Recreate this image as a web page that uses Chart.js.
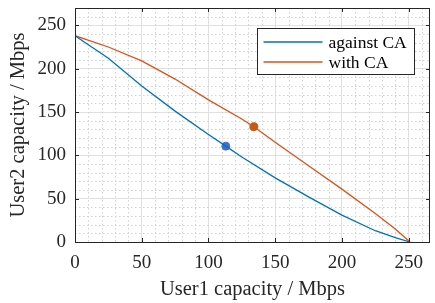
<!DOCTYPE html>
<html>
<head>
<meta charset="utf-8">
<script src="https://cdn.jsdelivr.net/npm/chart.js@4/dist/chart.umd.min.js"></script>
<style>
  html, body { margin: 0; padding: 0; background: #fff; }
  #wrap { width: 435px; height: 303px; }
</style>
</head>
<body>
<div id="wrap"><canvas id="c"></canvas></div>
<script>
// values
const seriesLabels = ['against CA', 'with CA']
const user1Against = [0, 25, 50, 75, 100, 113, 125, 150, 175, 200, 225, 240, 251]
const user2Against = [238, 212, 180, 151, 124, 110.6, 98, 74, 52, 31, 13, 5, 0]
const user1With = [0, 25, 50, 75, 100, 125, 134, 150, 175, 200, 225, 240, 251]
const user2With = [238, 225, 209, 188, 164, 142, 133, 115, 88, 61, 33, 15, 0]
const markerAgainst = [113, 110.6]
const markerWith = [134, 133]
const xTicks = [0, 50, 100, 150, 200, 250]
const yTicks = [0, 50, 100, 150, 200, 250]

const BLUE = '#0072BD'
const ORANGE = '#D95319'
const AXIS = '#262626'
const SERIF = "'Liberation Serif', 'Times New Roman', serif"

const toPoints = (xs, ys) => xs.map((x, i) => ({ x: x, y: ys[i] }))

// minor dotted grid, box with inward ticks, and the legend inside the plot
const frame = {
  id: 'frame',
  beforeDatasetsDraw(chart) {
    const { ctx, chartArea: a, scales: { x, y } } = chart
    ctx.save()
    ctx.strokeStyle = '#d2d2d2'
    ctx.lineWidth = 1
    ctx.setLineDash([1.5, 2.5])
    for (let v = 10; v < x.max; v += 10) {
      if (v % 50 === 0) continue
      const px = Math.round(x.getPixelForValue(v)) + 0.5
      ctx.beginPath(); ctx.moveTo(px, a.top); ctx.lineTo(px, a.bottom); ctx.stroke()
    }
    for (let v = 10; v < y.max; v += 10) {
      if (v % 50 === 0) continue
      const py = Math.round(y.getPixelForValue(v)) + 0.5
      ctx.beginPath(); ctx.moveTo(a.left, py); ctx.lineTo(a.right, py); ctx.stroke()
    }
    ctx.restore()
  },
  afterDraw(chart) {
    const { ctx, chartArea: a, scales: { x, y } } = chart
    ctx.save()
    ctx.strokeStyle = AXIS
    ctx.lineWidth = 1
    ctx.strokeRect(Math.round(a.left) + 0.5, Math.round(a.top) + 0.5,
      Math.round(a.right - a.left) - 1, Math.round(a.bottom - a.top))
    const tl = 4
    ctx.beginPath()
    xTicks.forEach(v => {
      const px = Math.round(x.getPixelForValue(v)) + 0.5
      ctx.moveTo(px, a.bottom); ctx.lineTo(px, a.bottom - tl)
      ctx.moveTo(px, a.top); ctx.lineTo(px, a.top + tl)
    })
    yTicks.forEach(v => {
      const py = Math.round(y.getPixelForValue(v)) + 0.5
      ctx.moveTo(a.left, py); ctx.lineTo(a.left + tl, py)
      ctx.moveTo(a.right, py); ctx.lineTo(a.right - tl, py)
    })
    ctx.stroke()

    // legend
    const lw = 157, lh = 46
    const lx = Math.round(a.right - 16 - lw) + 0.5
    const ly = Math.round(a.top + 20) + 0.5
    ctx.fillStyle = '#fff'
    ctx.fillRect(lx, ly, lw, lh)
    ctx.strokeStyle = AXIS
    ctx.strokeRect(lx, ly, lw, lh)
    ctx.font = '17.5px ' + SERIF
    ctx.textBaseline = 'middle'
    chart.data.datasets.slice(0, 2).forEach((ds, i) => {
      const ry = ly + 13.5 + i * 20
      ctx.strokeStyle = ds.borderColor
      ctx.lineWidth = 1.3
      ctx.beginPath(); ctx.moveTo(lx + 6, ry); ctx.lineTo(lx + 65, ry); ctx.stroke()
      ctx.fillStyle = '#000'
      ctx.fillText(ds.label, lx + 71, ry + 1)
    })
    ctx.restore()
  }
}

new Chart(document.getElementById('c'), {
  type: 'line',
  data: {
    datasets: [
      {
        label: seriesLabels[0],
        data: toPoints(user1Against, user2Against),
        borderColor: BLUE,
        borderWidth: 1.3,
        pointRadius: 0,
        tension: 0
      },
      {
        label: seriesLabels[1],
        data: toPoints(user1With, user2With),
        borderColor: ORANGE,
        borderWidth: 1.3,
        pointRadius: 0,
        tension: 0
      },
      {
        type: 'scatter',
        label: 'marker against',
        data: [{ x: markerAgainst[0], y: markerAgainst[1] }],
        pointRadius: 4,
        pointBackgroundColor: '#4470CC',
        pointBorderColor: '#4470CC',
        borderColor: '#4470CC'
      },
      {
        type: 'scatter',
        label: 'marker with',
        data: [{ x: markerWith[0], y: markerWith[1] }],
        pointRadius: 4,
        pointBackgroundColor: '#C65A11',
        pointBorderColor: '#C65A11',
        borderColor: '#C65A11'
      }
    ]
  },
  options: {
    responsive: true,
    maintainAspectRatio: false,
    animation: false,
    layout: { padding: { top: 8, right: 1, left: 0, bottom: 0 } },
    plugins: {
      legend: { display: false },
      tooltip: { enabled: false }
    },
    scales: {
      x: {
        type: 'linear',
        min: 0,
        max: 266,
        afterBuildTicks: s => { s.ticks = xTicks.map(v => ({ value: v })) },
        afterFit: s => { s.height = 61; s.paddingLeft = 0; s.paddingRight = 0 },
        grid: { color: '#e0e0e0', drawTicks: false },
        border: { display: false },
        ticks: {
          padding: 10,
          maxRotation: 0,
          color: AXIS,
          font: { family: SERIF, size: 19 }
        },
        title: {
          display: true,
          text: 'User1 capacity / Mbps',
          color: AXIS,
          font: { family: SERIF, size: 20.5 },
          padding: { top: 0, bottom: 1 }
        }
      },
      y: {
        type: 'linear',
        min: 0,
        max: 270,
        afterBuildTicks: s => { s.ticks = yTicks.map(v => ({ value: v })) },
        afterFit: s => { s.width = 75; s.paddingTop = 0; s.paddingBottom = 0 },
        grid: { color: '#e0e0e0', drawTicks: false },
        border: { display: false },
        ticks: {
          padding: 9,
          color: AXIS,
          font: { family: SERIF, size: 19 }
        },
        title: {
          display: true,
          text: 'User2 capacity / Mbps',
          color: AXIS,
          font: { family: SERIF, size: 20.5 },
          padding: { top: 6, bottom: 0 }
        }
      }
    }
  },
  plugins: [frame]
})
</script>
</body>
</html>
